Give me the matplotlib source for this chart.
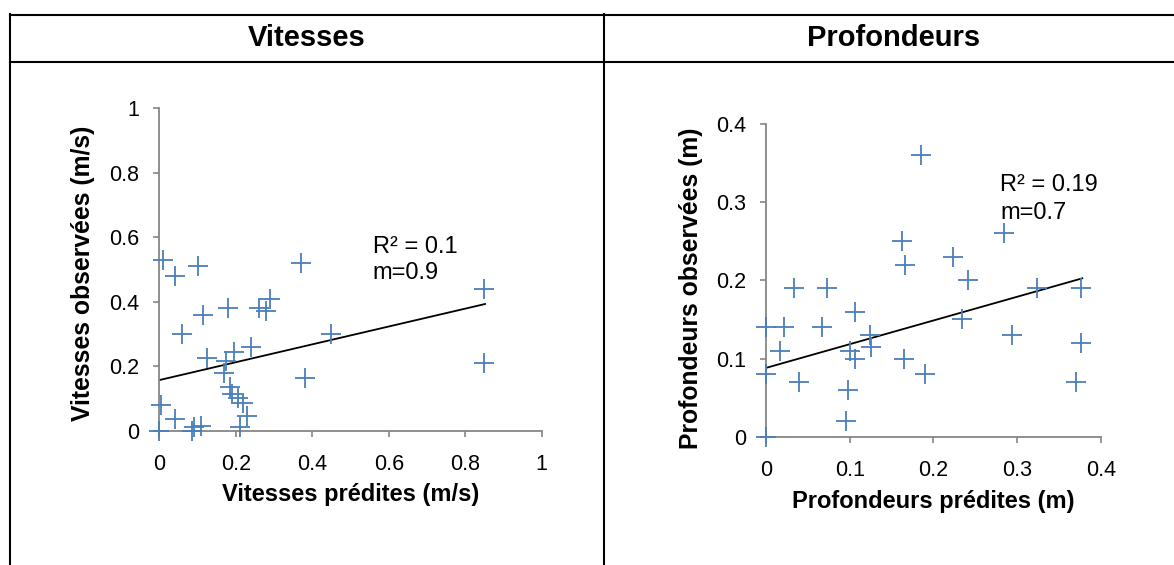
import matplotlib
matplotlib.use("Agg")
import matplotlib.pyplot as plt
from matplotlib.lines import Line2D

plt.rcParams['font.family'] = ['Liberation Sans', 'DejaVu Sans']

# ---- data ----
headers = ["Vitesses", "Profondeurs"]

vit_pred = [0.01, 0.04, 0.10, 0.37, 0.85, 0.85, 0.18, 0.115, 0.26, 0.28, 0.29,
            0.06, 0.45, 0.24, 0.195, 0.125, 0.175, 0.17, 0.38, 0.185, 0.19,
            0.205, 0.22, 0.005, 0.23, 0.04, 0.21, 0.11, 0.085, 0.0, 0.09]
vit_obs = [0.53, 0.48, 0.51, 0.52, 0.44, 0.21, 0.38, 0.36, 0.38, 0.37, 0.41,
           0.30, 0.30, 0.26, 0.245, 0.225, 0.215, 0.18, 0.165, 0.135, 0.115,
           0.10, 0.085, 0.08, 0.045, 0.035, 0.01, 0.015, 0.0, 0.0, 0.01]
vit_trend_x = [0.0, 0.852]
vit_trend_y = [0.157, 0.393]
vit_ticks = [0, 0.2, 0.4, 0.6, 0.8, 1]
vit_ticklabels = ["0", "0.2", "0.4", "0.6", "0.8", "1"]
vit_annot = ["R² = 0.1", "m=0.9"]

prof_pred = [0.185, 0.285, 0.162, 0.166, 0.224, 0.241, 0.033, 0.073, 0.324,
             0.377, 0.106, 0.0, 0.022, 0.067, 0.234, 0.294, 0.124, 0.126,
             0.017, 0.100, 0.106, 0.165, 0.377, 0.0, 0.040, 0.190, 0.371,
             0.098, 0.096, 0.0]
prof_obs = [0.36, 0.26, 0.25, 0.22, 0.23, 0.20, 0.19, 0.19, 0.19, 0.19, 0.16,
            0.14, 0.14, 0.14, 0.15, 0.13, 0.13, 0.115, 0.11, 0.11, 0.10, 0.10,
            0.12, 0.08, 0.07, 0.08, 0.07, 0.06, 0.02, 0.0]
prof_trend_x = [0.0, 0.378]
prof_trend_y = [0.088, 0.2026]
prof_ticks = [0, 0.1, 0.2, 0.3, 0.4]
prof_ticklabels = ["0", "0.1", "0.2", "0.3", "0.4"]
prof_annot = ["R² = 0.19", "m=0.7"]

# ---- figure ----
W, H = 1174, 565
fig = plt.figure(figsize=(W / 100, H / 100), dpi=100)
fig.patch.set_facecolor("white")

def fx(px):
    return px / W

def fy(py):
    return 1 - py / H

# table lines
lw_tab = 1.5
for y in (14.7, 62):
    fig.add_artist(Line2D([fx(10), 1.0], [fy(y), fy(y)], color="black", lw=lw_tab))
for x in (10, 604):
    fig.add_artist(Line2D([fx(x), fx(x)], [fy(14), 0.0], color="black", lw=lw_tab))

fig.text(fx(307), fy(38), headers[0], ha="center", va="center",
         fontsize=21, fontweight="bold")
fig.text(fx(894), fy(38), headers[1], ha="center", va="center",
         fontsize=21, fontweight="bold")

SPINE = "#868686"
BLUE = "#4A7EBB"


def style(ax, ticks, labels, lim):
    ax.set_xlim(lim)
    ax.set_ylim(lim)
    ax.set_xticks(ticks)
    ax.set_yticks(ticks)
    ax.set_xticklabels(labels)
    ax.set_yticklabels(labels)
    for s in ("top", "right"):
        ax.spines[s].set_visible(False)
    for s in ("left", "bottom"):
        ax.spines[s].set_color(SPINE)
        ax.spines[s].set_linewidth(1.3)
    ax.tick_params(axis="both", direction="out", length=4.5, width=1.2,
                   color=SPINE, labelsize=15.5, labelcolor="black")
    ax.tick_params(axis="x", pad=12)
    ax.tick_params(axis="y", pad=10)
    ax.set_facecolor("none")


# left axes
ax1 = fig.add_axes([fx(159.3), fy(430.7), 382.4 / W, 322.4 / H])
style(ax1, vit_ticks, vit_ticklabels, (0, 1))
ax1.plot(vit_pred, vit_obs, linestyle="none", marker="+", markersize=14.5,
         markeredgewidth=1.3, color=BLUE, clip_on=False, zorder=3)
ax1.plot(vit_trend_x, vit_trend_y, color="black", lw=1.3, zorder=2)
ax1.text(0.558, 0.571, vit_annot[0], fontsize=17, va="center", ha="left")
ax1.text(0.558, 0.488, vit_annot[1], fontsize=17, va="center", ha="left")
ax1.set_xlabel("Vitesses prédites (m/s)", fontsize=17, fontweight="bold")
ax1.set_ylabel("Vitesses observées (m/s)", fontsize=17.8, fontweight="bold")
ax1.xaxis.set_label_coords(0.5, -0.199)
ax1.yaxis.set_label_coords(-0.2, 0.488)
ax1.xaxis.label.set_va("center")
ax1.yaxis.label.set_va("center")

# right axes
ax2 = fig.add_axes([fx(766), fy(436.7), 334.7 / W, 312.7 / H])
style(ax2, prof_ticks, prof_ticklabels, (0, 0.4))
ax2.plot(prof_pred, prof_obs, linestyle="none", marker="+", markersize=14.5,
         markeredgewidth=1.3, color=BLUE, clip_on=False, zorder=3)
ax2.plot(prof_trend_x, prof_trend_y, color="black", lw=1.3, zorder=2)
ax2.text(0.2797, 0.322, prof_annot[0], fontsize=17, va="center", ha="left")
ax2.text(0.2797, 0.286, prof_annot[1], fontsize=17, va="center", ha="left")
ax2.set_xlabel("Profondeurs prédites (m)", fontsize=17, fontweight="bold")
ax2.set_ylabel("Profondeurs observées (m)", fontsize=17.8, fontweight="bold")
ax2.xaxis.set_label_coords(0.499, -0.208)
ax2.yaxis.set_label_coords(-0.224, 0.4755)
ax2.xaxis.label.set_va("center")
ax2.yaxis.label.set_va("center")

fig.savefig("out.png", dpi=100, facecolor="white")
